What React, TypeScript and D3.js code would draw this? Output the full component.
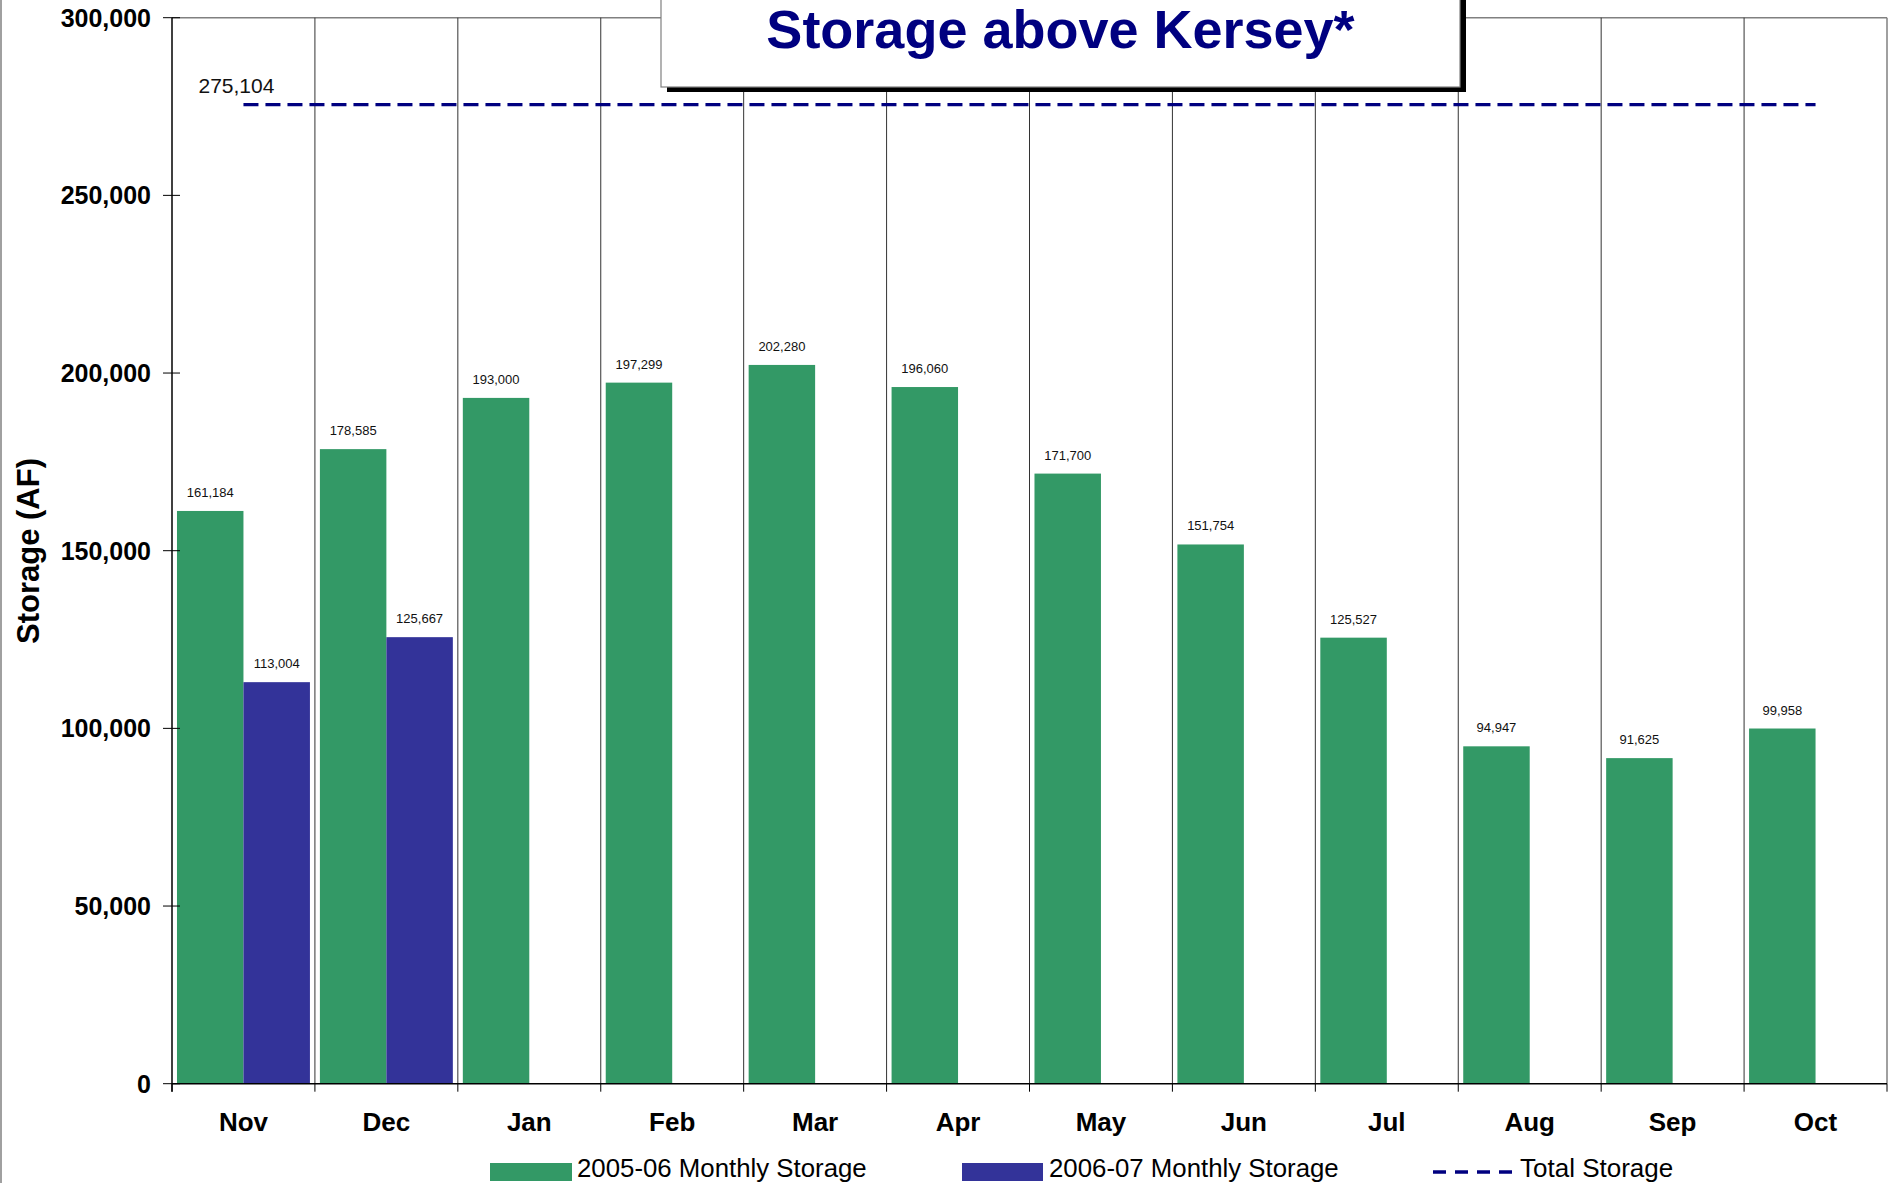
import React, { useEffect } from "react";
import * as d3 from "d3";

const months = ["Nov", "Dec", "Jan", "Feb", "Mar", "Apr", "May", "Jun", "Jul", "Aug", "Sep", "Oct"];
const storage0506 = [161184, 178585, 193000, 197299, 202280, 196060, 171700, 151754, 125527, 94947, 91625, 99958];
const storage0607 = [113004, 125667, null, null, null, null, null, null, null, null, null, null];
const totalStorage = 275104;
const yTicks = [0, 50000, 100000, 150000, 200000, 250000, 300000];
const seriesNames = ["2005-06 Monthly Storage", "2006-07 Monthly Storage", "Total Storage"];
const titleText = "Storage above Kersey*";
const yLabel = "Storage (AF)";

const W = 1891;
const H = 1183;
const FONT = "'Liberation Sans', Arial, Helvetica, sans-serif";
const GREEN = "#339966";
const BLUE = "#333399";
const NAVY = "#000080";

export default function App() {
  useEffect(() => {
    document.body.style.margin = "0";
  }, []);

  const left = 172;
  const right = 1887;
  const top = 17.7;
  const bottom = 1083.7;

  const x = d3.scaleBand<string>().domain(months).range([left, right]).paddingInner(0).paddingOuter(0);
  const xs = d3.scaleBand<string>().domain(["a", "b"]).range([0, x.bandwidth()]).paddingInner(0).paddingOuter(0.075);
  const y = d3.scaleLinear().domain([0, 300000]).range([bottom, top]);
  const fmt = d3.format(",");

  const bars: { m: string; s: string; v: number; color: string }[] = [];
  months.forEach((m, i) => {
    bars.push({ m, s: "a", v: storage0506[i], color: GREEN });
    const b = storage0607[i];
    if (b != null) bars.push({ m, s: "b", v: b, color: BLUE });
  });

  const boundaries = months.map((m) => x(m)!).concat([right]);
  const totalY = y(totalStorage) - 1.5;
  const lineX0 = x(months[0])! + x.bandwidth() / 2;
  const lineX1 = x(months[months.length - 1])! + x.bandwidth() / 2;

  return (
    <svg width={W} height={H} style={{ position: "absolute", left: 0, top: 0, display: "block" }} fontFamily={FONT}>
      <rect x={0} y={0} width={W} height={H} fill="#fff" />
      <line x1={1} y1={0} x2={1} y2={H} stroke="#808080" strokeWidth={1.5} />
      <line x1={left} y1={top} x2={right} y2={top} stroke="#808080" strokeWidth={1.5} />
      <line x1={right} y1={top} x2={right} y2={bottom} stroke="#808080" strokeWidth={1.5} />

      {boundaries.slice(1, -1).map((bx, i) => (
        <line key={"g" + i} x1={bx} y1={top} x2={bx} y2={bottom} stroke="#333" strokeWidth={1} />
      ))}

      {bars.map((d, i) => (
        <rect
          key={"b" + i}
          x={x(d.m)! + xs(d.s)!}
          y={y(d.v)}
          width={xs.bandwidth()}
          height={bottom - y(d.v)}
          fill={d.color}
        />
      ))}

      {bars.map((d, i) => (
        <text
          key={"l" + i}
          x={x(d.m)! + xs(d.s)! + xs.bandwidth() / 2}
          y={y(d.v) - 14}
          textAnchor="middle"
          fontSize={13}
          fill="#111"
        >
          {fmt(d.v)}
        </text>
      ))}

      <line x1={lineX0} y1={totalY} x2={lineX1} y2={totalY} stroke={NAVY} strokeWidth={3.3} strokeDasharray="15 7" />
      <text x={lineX0 - 7} y={totalY - 12} textAnchor="middle" fontSize={21} fill="#111">
        {fmt(totalStorage)}
      </text>

      <line x1={left} y1={top} x2={left} y2={bottom + 8} stroke="#000" strokeWidth={1.5} />
      {yTicks.map((t) => (
        <g key={"yt" + t}>
          <line x1={163} y1={y(t)} x2={180} y2={y(t)} stroke="#000" strokeWidth={1} />
          <text x={151} y={y(t)} dy="0.36em" textAnchor="end" fontSize={25} fontWeight="bold" fill="#000">
            {fmt(t)}
          </text>
        </g>
      ))}
      <text
        transform={`translate(39,551) rotate(-90)`}
        textAnchor="middle"
        fontSize={31}
        fontWeight="bold"
        fill="#000"
      >
        {yLabel}
      </text>

      <line x1={left} y1={bottom} x2={right} y2={bottom} stroke="#000" strokeWidth={1.5} />
      {boundaries.map((bx, i) => (
        <line key={"xt" + i} x1={bx} y1={bottom} x2={bx} y2={bottom + 8} stroke="#000" strokeWidth={1} />
      ))}
      {months.map((m) => (
        <text key={"xl" + m} x={x(m)! + x.bandwidth() / 2} y={1131} textAnchor="middle" fontSize={26} fontWeight="bold" fill="#000">
          {m}
        </text>
      ))}

      <rect x={667} y={-10} width={799} height={102} fill="#000" />
      <rect x={661} y={-10} width={799} height={97} fill="#fff" stroke="#808080" strokeWidth={1.2} />
      <text x={1060.5} y={48} textAnchor="middle" fontSize={54} fontWeight="bold" fill={NAVY}>
        {titleText}
      </text>

      <rect x={490} y={1163} width={82} height={18} fill={GREEN} />
      <text x={577} y={1177} fontSize={25.8} fill="#000">{seriesNames[0]}</text>
      <rect x={962} y={1163} width={81} height={18} fill={BLUE} />
      <text x={1049} y={1177} fontSize={25.8} fill="#000">{seriesNames[1]}</text>
      <line x1={1433} y1={1172} x2={1513} y2={1172} stroke={NAVY} strokeWidth={3.3} strokeDasharray="13 9" />
      <text x={1520} y={1177} fontSize={26} fill="#000">{seriesNames[2]}</text>
    </svg>
  );
}
